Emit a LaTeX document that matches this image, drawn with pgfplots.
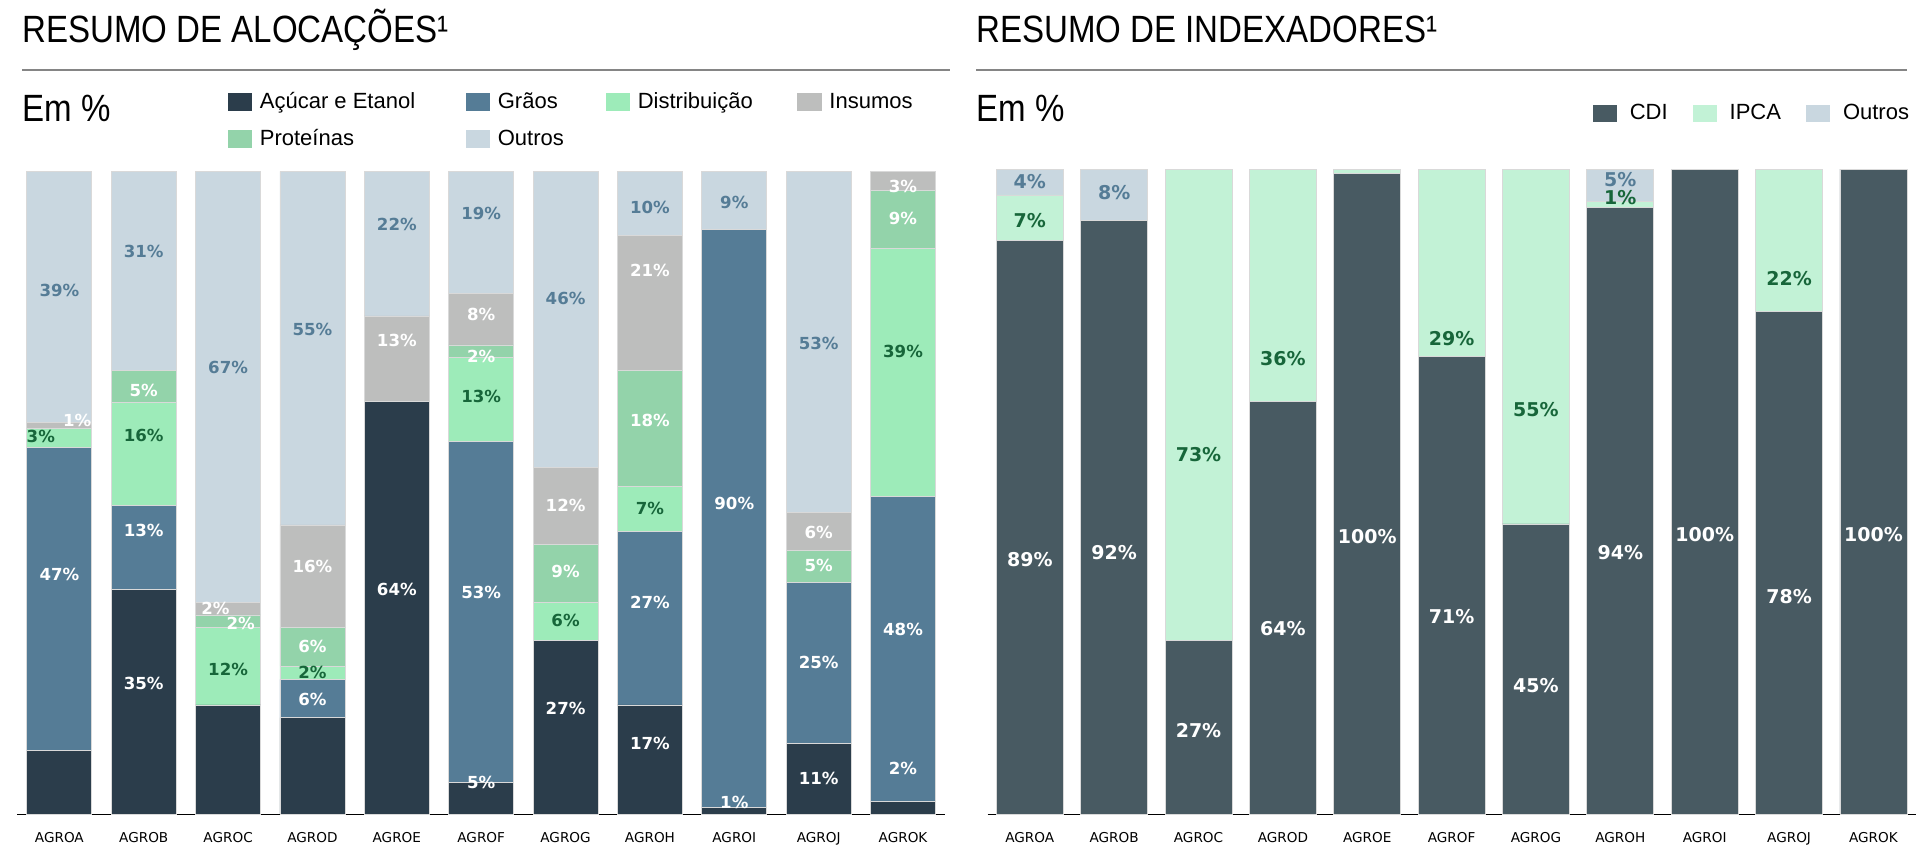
\documentclass[border=0pt]{standalone}
\usepackage{fontspec}
\setmainfont{Liberation Sans}
\newfontfamily\labfont{DejaVu Sans}
\usepackage{graphicx}
\usepackage{pgfplots}
\usepackage{pgfplotstable}
\pgfplotsset{compat=1.18}

\definecolor{acu}{HTML}{2B3D4B}
\definecolor{gra}{HTML}{557C96}
\definecolor{dis}{HTML}{9DEBB9}
\definecolor{pro}{HTML}{93D3AA}
\definecolor{ins}{HTML}{BDBEBD}
\definecolor{out}{HTML}{C9D7E0}
\definecolor{cdi}{HTML}{485A62}
\definecolor{ipca}{HTML}{C2F2D6}
\definecolor{dgreen}{HTML}{17663A}
\definecolor{outlab}{HTML}{557C96}
\definecolor{rulegray}{HTML}{858585}

% alocacoes (em %), base -> topo
\pgfplotstableread{
x  acu   gra   dis   pro  ins   out
0  10    47    3     0    1     39
1  35    13    16    5    0     31
2  17    0     12    2    2     67
3  15    6     2     6    16    55
4  64.2  0     0     0    13.3  22.5
5  5     53    13    2    8     19
6  27    0     6     9    12    46
7  17    27    7     18   21    10
8  1     90    0     0    0     9
9  11    25    0     5    6     53
10 2     47.5  38.5  9    3     0
}\alocacoes

% indexadores (em %)
\pgfplotstableread{
x  cdi   ipca  out
0  89    7     4
1  92    0     8
2  27    73    0
3  64    36    0
4  99.3  0.7   0
5  71    29    0
6  45    55    0
7  94    1     5
8  100   0     0
9  78    22    0
10 100   0     0
}\indexadores

% rotulos: posicao (x, y) e valor
\pgfplotstableread{
x     y     t
0.21  61.3  1
0     37.3  47
1     65.9  5
1     44.2  13
1     20.4  35
1.85  32.0  2
2.15  29.7  2
3     38.5  16
3     26.1  6
3     17.9  6
4     73.7  13
4     35.0  64
5     77.7  8
5     71.2  2
5     34.5  53
5     5.0   5
6     48.0  12
6     37.7  9
6     16.4  27
7     84.6  21
7     61.3  18
7     33.0  27
7     11.0  17
8     48.4  90
8     1.9   1
9     43.8  6
9     38.7  5
9     23.6  25
9     5.5   11
10    97.7  3
10    92.6  9
10    28.8  48
10    7.2   2
}\labLw
\pgfplotstableread{
x     y     t
0     81.5  39
1     87.6  31
2     69.5  67
3     75.4  55
4     91.8  22
5     93.5  19
6     80.2  46
7     94.3  10
8     95.2  9
9     73.3  53
}\labLo
\pgfplotstableread{
x     y     t
-0.22 58.7  3
1     58.9  16
2     22.5  12
3     22.1  2
5     65.0  13
6     30.1  6
7     47.6  7
10    72.0  39
}\labLg
\pgfplotstableread{
x     y     t
0     39.5  89
1     40.6  92
2     12.9  27
3     28.8  64
4     43.1  100
5     30.7  71
6     19.9  45
7     40.6  94
8     43.3  100
9     33.8  78
10    43.3  100
}\labRw
\pgfplotstableread{
x     y     t
0     98.1  4
1     96.4  8
7     98.4  5
}\labRo
\pgfplotstableread{
x     y     t
0     92.0  7
2     55.8  73
3     70.6  36
5     73.8  29
6     62.8  55
7     95.6  1
9     83.1  22
}\labRg

\pgfplotsset{
  sq legend/.style 2 args={legend image code/.code={%
    \path[draw=none, fill=#1] (0pt,-4.3pt) rectangle (12.2pt,4.3pt);
    \path[draw=none] (0pt,0pt) -- (#2,0pt);}},
  base/.style={
    scale only axis, width=464pt,
    xmin=-0.5, xmax=10.5, ymin=0, ymax=100,
    clip=false,
  },
  painel/.style={
    base,
    ybar stacked,
    axis x line=bottom, axis y line=none,
    x axis line style={-, black, line width=0.6pt},
    xtick={0,...,10},
    xticklabels={AGROA,AGROB,AGROC,AGROD,AGROE,AGROF,AGROG,AGROH,AGROI,AGROJ,AGROK},
    xtick style={draw=none},
    xticklabel style={font=\labfont\fontsize{6.8}{8}\selectfont, yshift=-3.2pt},
    ytick=\empty,
    legend cell align=left,
  },
  rotulos/.style={base, axis lines=none, xtick=\empty, ytick=\empty},
  barra/.style={fill=#1, draw=black!15, line width=0.4pt, forget plot},
  rot/.style 2 args={draw=none, mark=none, point meta=explicit symbolic,
    nodes near coords={\pgfplotspointmeta\%},
    every node near coord/.append style={anchor=center, inner sep=0pt, text=#1,
      font=\labfont\bfseries\fontsize{#2}{#2}\selectfont}},
}

\begin{document}
\begin{tikzpicture}
\useasboundingbox (0,0) rectangle (960pt,-427pt);

\begin{scope}[x=0.5pt, y=-0.5pt]
  \node[anchor=base west, inner sep=0pt] at (22,43) {\scalebox{0.87}[1]{\fontsize{19}{19}\selectfont RESUMO DE ALOCAÇÕES¹}};
  \node[anchor=base west, inner sep=0pt] at (976,43) {\scalebox{0.87}[1]{\fontsize{19}{19}\selectfont RESUMO DE INDEXADORES¹}};
  \draw[rulegray, line width=1.4pt] (22,70) -- (950,70);
  \draw[rulegray, line width=1.4pt] (976,70) -- (1907,70);
  \node[anchor=base west, inner sep=0pt] at (22,122) {\scalebox{0.87}[1]{\fontsize{19}{19}\selectfont Em \%}};
  \node[anchor=base west, inner sep=0pt] at (976,122) {\scalebox{0.87}[1]{\fontsize{19}{19}\selectfont Em \%}};
\end{scope}

% ---------- alocacoes ----------
\begin{axis}[painel, height=321.5pt, bar width=32.5pt,
  at={(8.6pt,-407.15pt)}, anchor=south west,
  legend columns=4,
  legend style={at={(0.227,1.129)}, anchor=north west, draw=none, fill=none,
    inner sep=0pt, outer sep=0pt, font=\fontsize{11}{13}\selectfont,
    column sep=0pt, row sep=4.9pt},
  ]
  \addplot[barra=acu] table[x=x, y=acu] {\alocacoes};
  \addplot[barra=gra] table[x=x, y=gra] {\alocacoes};
  \addplot[barra=dis] table[x=x, y=dis] {\alocacoes};
  \addplot[barra=pro] table[x=x, y=pro] {\alocacoes};
  \addplot[barra=ins] table[x=x, y=ins] {\alocacoes};
  \addplot[barra=out] table[x=x, y=out] {\alocacoes};

  \addlegendimage{sq legend={acu}{14pt}}\addlegendentry{\makebox[101pt][l]{Açúcar e Etanol}}
  \addlegendimage{sq legend={gra}{14pt}}\addlegendentry{\makebox[52pt][l]{Grãos}}
  \addlegendimage{sq legend={dis}{14pt}}\addlegendentry{\makebox[77.8pt][l]{Distribuição}}
  \addlegendimage{sq legend={ins}{14pt}}\addlegendentry{Insumos}
  \addlegendimage{sq legend={pro}{14pt}}\addlegendentry{\makebox[101pt][l]{Proteínas}}
  \addlegendimage{sq legend={out}{14pt}}\addlegendentry{\makebox[52pt][l]{Outros}}
\end{axis}
\begin{axis}[rotulos, height=321.5pt, at={(8.6pt,-407.15pt)}, anchor=south west]
  \addplot[rot={white}{8.3}] table[x=x, y=y, meta=t] {\labLw};
  \addplot[rot={outlab}{8.3}] table[x=x, y=y, meta=t] {\labLo};
  \addplot[rot={dgreen}{8.3}] table[x=x, y=y, meta=t] {\labLg};
\end{axis}

% ---------- indexadores ----------
\begin{axis}[painel, height=322.6pt, bar width=33.5pt,
  at={(493.8pt,-407.15pt)}, anchor=south west,
  legend columns=3,
  legend style={at={(0.9972,1.1065)}, anchor=north east, draw=none, fill=none,
    inner sep=0pt, outer sep=0pt, font=\fontsize{11}{13}\selectfont,
    /tikz/every even column/.append style={column sep=10.5pt}},
  ]
  \addplot[barra=cdi] table[x=x, y=cdi] {\indexadores};
  \addplot[barra=ipca] table[x=x, y=ipca] {\indexadores};
  \addplot[barra=out] table[x=x, y=out] {\indexadores};

  \addlegendimage{sq legend={cdi}{16.5pt}}\addlegendentry{CDI}
  \addlegendimage{sq legend={ipca}{16.5pt}}\addlegendentry{IPCA}
  \addlegendimage{sq legend={out}{16.5pt}}\addlegendentry{Outros}
\end{axis}
\begin{axis}[rotulos, height=322.6pt, at={(493.8pt,-407.15pt)}, anchor=south west]
  \addplot[rot={white}{9.5}] table[x=x, y=y, meta=t] {\labRw};
  \addplot[rot={outlab}{9.5}] table[x=x, y=y, meta=t] {\labRo};
  \addplot[rot={dgreen}{9.5}] table[x=x, y=y, meta=t] {\labRg};
\end{axis}
\end{tikzpicture}
\end{document}
